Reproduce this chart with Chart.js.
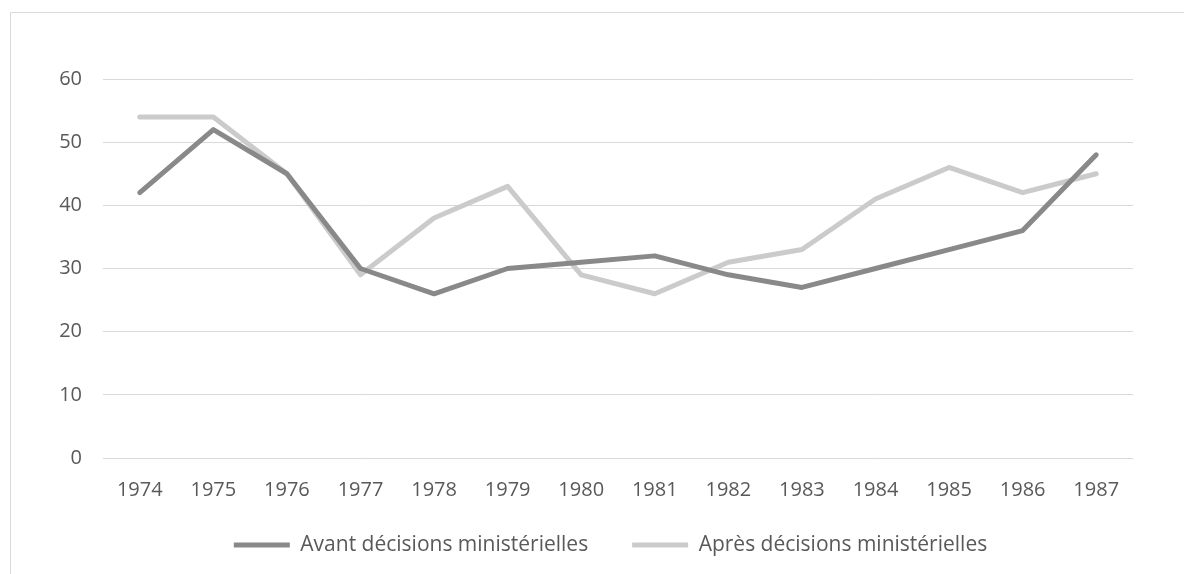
<!DOCTYPE html>
<html>
<head>
<meta charset="utf-8">
<script src="https://cdn.jsdelivr.net/npm/chart.js@4/dist/chart.umd.min.js"></script>
<style>
  html, body { margin: 0; padding: 0; background: #ffffff; }
  #wrap { position: relative; width: 1184px; height: 574px; }
</style>
</head>
<body>
<div id="wrap"><canvas id="c" width="1184" height="574"></canvas></div>
<script>
const years = ['1974','1975','1976','1977','1978','1979','1980','1981','1982','1983','1984','1985','1986','1987'];
const avant = [42, 52, 45, 30, 26, 30, 31, 32, 29, 27, 30, 33, 36, 48];
const apres = [54, 54, 45, 29, 38, 43, 29, 26, 31, 33, 41, 46, 42, 45];
const seriesNames = ['Avant décisions ministérielles', 'Après décisions ministérielles'];
const yTicks = [0, 10, 20, 30, 40, 50, 60];

const FONT = "'Open Sans', 'Liberation Sans', sans-serif";
const TEXT = '#595959';
const LEGEND_PAD = 44;
const LEGEND_FONT = 21;

const borderPlugin = {
  id: 'outerBorder',
  afterLayout(chart) {
    const lg = chart.legend;
    if (lg) {
      const h = lg.height;
      lg.top = 545 - LEGEND_PAD - LEGEND_FONT / 2;
      lg.bottom = lg.top + h;
      lg.left += 44;
      lg.right += 44;
    }
  },
  beforeDraw(chart) {
    const ctx = chart.ctx;
    ctx.save();
    ctx.fillStyle = '#ffffff';
    ctx.fillRect(0, 0, chart.width, chart.height);
    ctx.strokeStyle = '#d9d9d9';
    ctx.lineWidth = 1;
    ctx.beginPath();
    ctx.moveTo(10.5, chart.height);
    ctx.lineTo(10.5, 12.5);
    ctx.lineTo(chart.width, 12.5);
    ctx.stroke();
    ctx.restore();
  }
};

new Chart(document.getElementById('c'), {
  type: 'line',
  data: {
    labels: years,
    datasets: [
      { label: seriesNames[0], data: avant, borderColor: '#898989', backgroundColor: '#898989',
        borderWidth: 5, pointRadius: 0, pointHoverRadius: 0, pointStyle: 'line',
        borderCapStyle: 'round', borderJoinStyle: 'round', tension: 0, fill: false },
      { label: seriesNames[1], data: apres, borderColor: '#cbcbcb', backgroundColor: '#cbcbcb',
        borderWidth: 5, pointRadius: 0, pointHoverRadius: 0, pointStyle: 'line',
        borderCapStyle: 'round', borderJoinStyle: 'round', tension: 0, fill: false }
    ]
  },
  options: {
    responsive: false,
    animation: false,
    devicePixelRatio: 1,
    layout: { padding: { left: 0, right: 51, top: 79, bottom: -20 } },
    plugins: {
      legend: {
        display: true,
        position: 'bottom',
        labels: {
          usePointStyle: true,
          pointStyleWidth: 56,
          boxHeight: 5,
          padding: LEGEND_PAD,
          color: TEXT,
          font: { family: FONT, size: LEGEND_FONT }
        }
      },
      tooltip: { enabled: false },
      title: { display: false }
    },
    scales: {
      x: {
        type: 'category',
        offset: true,
        grid: { display: false, drawTicks: false },
        border: { display: false },
        ticks: { color: TEXT, font: { family: FONT, size: 20 }, padding: 20, maxRotation: 0, autoSkip: false },
        afterFit(scale) {
          const lh = scale.chart.legend ? scale.chart.legend.height : 0;
          scale.height = 574 + 20 - 458 - lh;
        }
      },
      y: {
        min: 0,
        max: 60,
        afterBuildTicks(scale) { scale.ticks = yTicks.map(v => ({ value: v })); },
        grid: { color: '#d9d9d9', lineWidth: 1, drawTicks: false },
        border: { display: false },
        ticks: { color: TEXT, font: { family: FONT, size: 20 }, padding: 21 },
        afterFit(scale) { scale.width = 103; }
      }
    }
  },
  plugins: [borderPlugin]
});
</script>
</body>
</html>
